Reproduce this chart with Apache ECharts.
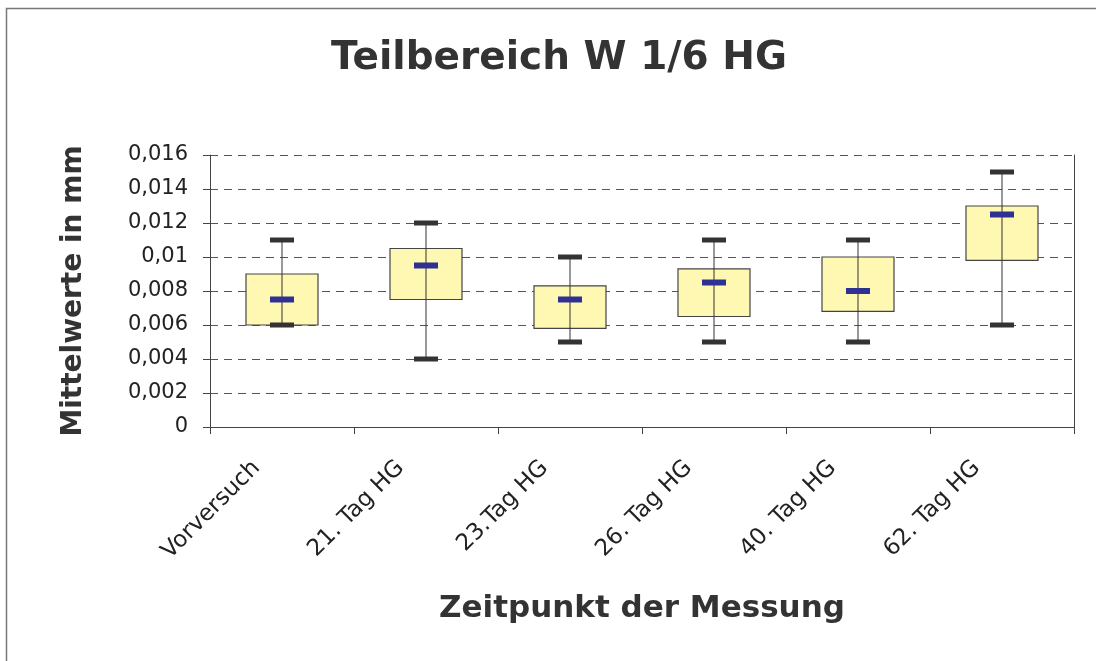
<!DOCTYPE html>
<html>
<head>
<meta charset="utf-8">
<script src="https://cdn.jsdelivr.net/npm/echarts@6/dist/echarts.min.js"></script>
<style>
  html, body { margin: 0; padding: 0; background: #fff; }
  #chart { width: 1096px; height: 661px; }
</style>
</head>
<body>
<div id="chart"></div>
<script>
const categories = ['Vorversuch', '21. Tag HG', '23.Tag HG', '26. Tag HG', '40. Tag HG', '62. Tag HG']
const mins    = [0.006, 0.004, 0.005, 0.005, 0.005, 0.006]
const lowers  = [0.006, 0.0075, 0.0058, 0.0065, 0.0068, 0.0098]
const medians = [0.0075, 0.0095, 0.0075, 0.0085, 0.008, 0.0125]
const uppers  = [0.009, 0.0105, 0.0083, 0.0093, 0.010, 0.013]
const maxs    = [0.011, 0.012, 0.010, 0.011, 0.011, 0.015]

// the original uses a spaced-out Arial, DejaVu gets the widths closer
const FONT = 'DejaVu Sans, Liberation Sans, sans-serif'

const chart = echarts.init(document.getElementById('chart'))

function renderBox(params, api) {
  const i = api.value(0)
  const band = api.size([1, 0])[0]
  const boxW = band * 0.5
  const capW = 24
  const pMin = api.coord([i, api.value(1)])
  const pLow = api.coord([i, api.value(2)])
  const pMed = api.coord([i, api.value(3)])
  const pUp = api.coord([i, api.value(4)])
  const pMax = api.coord([i, api.value(5)])
  const cx = pMed[0]
  return {
    type: 'group',
    children: [
      {
        type: 'rect',
        shape: { x: cx - boxW / 2, y: pUp[1], width: boxW, height: pLow[1] - pUp[1] },
        style: { fill: '#fff8b3', stroke: '#444', lineWidth: 1.2 }
      },
      {
        type: 'line',
        shape: { x1: cx, y1: pMax[1], x2: cx, y2: pMin[1] },
        style: { stroke: '#333', lineWidth: 1 }
      },
      {
        type: 'rect',
        shape: { x: cx - capW / 2, y: pMax[1] - 2.5, width: capW, height: 5 },
        style: { fill: '#333' }
      },
      {
        type: 'rect',
        shape: { x: cx - capW / 2, y: pMin[1] - 2.5, width: capW, height: 5 },
        style: { fill: '#333' }
      },
      {
        type: 'rect',
        shape: { x: cx - capW / 2, y: pMed[1] - 3, width: capW, height: 6 },
        style: { fill: '#2e3192' }
      }
    ]
  }
}

const boxData = categories.map((c, i) => [i, mins[i], lowers[i], medians[i], uppers[i], maxs[i]])

chart.setOption({
  backgroundColor: '#fff',
  animation: false,
  title: {
    text: 'Teilbereich W 1/6 HG',
    left: 554,
    textAlign: 'center',
    top: 34,
    textStyle: { fontFamily: FONT, fontSize: 39, fontWeight: 'bold', color: '#333' }
  },
  graphic: [
    {
      type: 'rect',
      left: 4, top: 6,
      shape: { width: 1200, height: 700 },
      style: { fill: 'none', stroke: '#777', lineWidth: 1.5 },
      silent: true
    }
  ],
  grid: { left: 210, right: 22, top: 155, bottom: 234 },
  xAxis: {
    type: 'category',
    data: categories,
    boundaryGap: true,
    name: 'Zeitpunkt der Messung',
    nameLocation: 'middle',
    nameGap: 166,
    nameTextStyle: { fontFamily: FONT, fontSize: 31, fontWeight: 'bold', color: '#333' },
    axisLine: { lineStyle: { color: '#444', width: 1 } },
    axisTick: { show: true, length: 7, lineStyle: { color: '#444' } },
    axisLabel: {
      rotate: 45,
      fontFamily: FONT,
      fontSize: 23,
      color: '#222',
      margin: 12,
      padding: [0, 36, 0, 0],
      interval: 0
    },
    splitLine: { show: false }
  },
  yAxis: [
    {
      type: 'value',
      min: 0,
      max: 0.016,
      interval: 0.002,
      name: 'Mittelwerte in mm',
      nameLocation: 'middle',
      nameGap: 122,
      nameRotate: 90,
      nameTextStyle: { fontFamily: FONT, fontSize: 28, fontWeight: 'bold', color: '#333' },
      axisLine: { show: true, lineStyle: { color: '#444', width: 1 } },
      axisTick: { show: true, length: 7, lineStyle: { color: '#444' } },
      axisLabel: {
        fontFamily: FONT,
        fontSize: 21,
        color: '#222',
        margin: 22,
        formatter: v => v === 0 ? '0' : String(+v.toFixed(3)).replace('.', ',')
      },
      splitLine: { show: true, lineStyle: { color: '#555', type: [8, 6], width: 1 } }
    },
    {
      type: 'value',
      min: 0,
      max: 0.016,
      interval: 0.002,
      position: 'right',
      axisLine: { show: true, lineStyle: { color: '#444', width: 1 } },
      axisTick: { show: false },
      axisLabel: { show: false },
      splitLine: { show: false }
    }
  ],
  series: [
    {
      type: 'custom',
      renderItem: renderBox,
      encode: { x: 0, y: [1, 2, 3, 4, 5] },
      data: boxData
    }
  ]
})
</script>
</body>
</html>
